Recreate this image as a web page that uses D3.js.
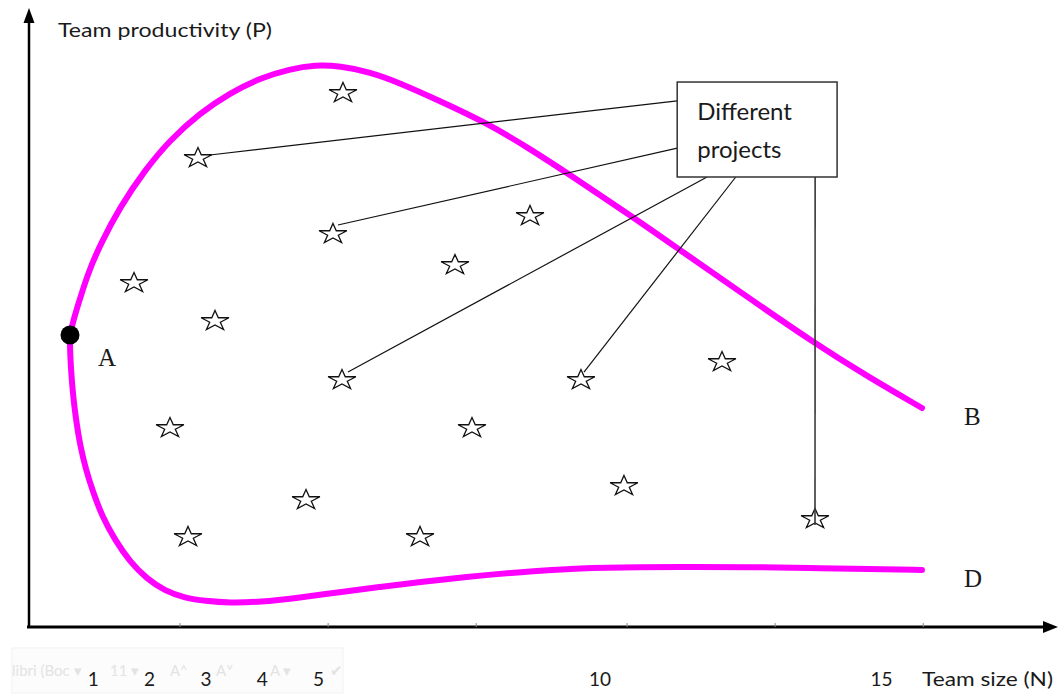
<!DOCTYPE html>
<html>
<head>
<meta charset="utf-8">
<script src="https://cdn.jsdelivr.net/npm/d3@7"></script>
<style>
  html, body { margin: 0; padding: 0; background: #ffffff; }
  svg { display: block; }
</style>
</head>
<body>
<svg id="chart" width="1058" height="695"></svg>
<script>
// ---------------- data ----------------
const xTickValues = [1, 2, 3, 4, 5, 10, 15];
const xTickLabels = ["1", "2", "3", "4", "5", "10", "15"];
const xTitle = "Team size (N)";
const yTitle = "Team productivity (P)";

// upper boundary A -> B  (N, P)
const upperN = [0.595, 0.648, 0.737, 0.915, 1.128, 1.483, 1.927, 2.371, 2.904, 3.437, 3.970, 4.503, 4.947, 5.391, 5.924, 6.456, 7.167, 8.002, 8.766, 9.423, 10.595, 11.430, 12.371, 13.810, 14.805, 15.728];
const upperP = [48.67, 50.83, 53.67, 59.0, 63.67, 70.0, 76.17, 81.17, 85.67, 89.0, 91.5, 93.0, 93.67, 93.5, 92.5, 90.67, 87.67, 84.0, 79.67, 75.67, 68.33, 62.83, 56.67, 47.33, 41.5, 36.5];

// lower boundary A -> D  (N, P)
const lowerN = [0.595, 0.595, 0.613, 0.648, 0.702, 0.773, 0.879, 1.004, 1.163, 1.394, 1.661, 1.963, 2.282, 2.638, 2.993, 3.437, 3.970, 4.627, 5.391, 6.101, 6.812, 7.611, 8.588, 9.654, 10.720, 11.679, 12.673, 13.721, 14.805, 15.728];
const lowerP = [48.67, 46.17, 42.83, 38.67, 34.5, 30.33, 26.17, 22.5, 18.5, 14.5, 10.83, 8.0, 6.0, 4.83, 4.33, 4.0, 4.17, 4.83, 5.83, 6.67, 7.5, 8.33, 9.17, 9.83, 10.0, 10.0, 10.0, 9.83, 9.67, 9.5];

// projects (stars)
const projectN = [5.444, 2.868, 5.266, 8.766, 7.433, 1.732, 3.171, 5.426, 9.671, 12.176, 2.371, 7.735, 4.787, 10.435, 2.691, 6.812, 13.828];
const projectP = [89.17, 78.33, 65.67, 68.67, 60.5, 57.5, 51.17, 41.33, 41.33, 44.33, 33.33, 33.33, 21.33, 23.67, 15.17, 15.17, 18.17];

// point A
const pointA = { n: 0.595, p: 48.67, label: "A" };
const endLabels = ["B", "D"];

// annotation box (data coords) and its leaders
const boxText = ["Different", "projects"];
const boxN = [11.38, 14.22];
const boxP = [90.83, 75.0];
const leaderFromN = [11.38, 11.38, 11.91, 12.42, 13.83];
const leaderFromP = [87.7, 79.8, 75.0, 75.0, 75.0];
const leaderStar  = [1, 2, 7, 8, 16];

// faint minor tick marks on the x axis (N)
const minorTicks = [2.55, 5.18, 7.81, 10.49, 13.12, 15.75];

// faint word-processor toolbar remnant under the axis
const toolbarTexts = ["libri (Boc \u25BE", "11 \u25BE", "A\u02C4", "A\u02C5", "A \u25BE", "\u2714"];
const toolbarX     = [12, 110, 170, 216, 270, 330];

// ---------------- drawing ----------------
const svg = d3.select("#chart");
const x = d3.scaleLinear().domain([0, 16]).range([36.5, 36.5 + 56.3 * 16]);
const y = d3.scaleLinear().domain([0, 100]).range([627, 27]);

const axisY0 = 627;   // x-axis baseline
const axisX0 = 29;    // y-axis position

// faint toolbar artifact
svg.append("rect").attr("x", 12).attr("y", 648).attr("width", 331).attr("height", 45)
  .attr("fill", "#fcfcfc").attr("stroke", "#f2f2f2");
svg.selectAll("text.tb").data(toolbarTexts).join("text").attr("class", "tb")
  .attr("x", (d, i) => toolbarX[i]).attr("y", 676)
  .attr("font-family", "Lato, sans-serif").attr("font-size", 15).attr("fill", "#e3e3e3").text(d => d);

// axes lines with arrowheads
svg.append("line").attr("x1", 27).attr("x2", 1046).attr("y1", axisY0).attr("y2", axisY0)
  .attr("stroke", "#000").attr("stroke-width", 3);
svg.append("path").attr("d", `M1058,${axisY0} L1043,${axisY0 - 6} L1043,${axisY0 + 6} Z`).attr("fill", "#000");
svg.append("line").attr("x1", axisX0).attr("x2", axisX0).attr("y1", axisY0 + 1).attr("y2", 20)
  .attr("stroke", "#000").attr("stroke-width", 2.5);
svg.append("path").attr("d", `M${axisX0},8 L${axisX0 - 5.5},23 L${axisX0 + 5.5},23 Z`).attr("fill", "#000");

// faint minor ticks
svg.selectAll("line.minor").data(minorTicks).join("line").attr("class", "minor")
  .attr("x1", d => x(d)).attr("x2", d => x(d)).attr("y1", axisY0 - 4).attr("y2", axisY0)
  .attr("stroke", "#888").attr("stroke-width", 1);

// x tick labels via d3 axis
const xAxis = d3.axisBottom(x).tickValues(xTickValues)
  .tickFormat((d, i) => xTickLabels[i]).tickSize(0).tickPadding(0);
const gx = svg.append("g").attr("transform", `translate(0,${axisY0})`).call(xAxis);
gx.select(".domain").remove();
gx.selectAll("text").attr("font-family", "Lato, sans-serif").attr("font-size", 19)
  .attr("fill", "#1a1a1a").attr("dy", null).attr("y", 59);

// axis titles
svg.append("text").attr("x", 922).attr("y", 686).attr("font-family", "Lato, sans-serif")
  .attr("font-size", 19).attr("fill", "#1a1a1a")
  .attr("textLength", 131).attr("lengthAdjust", "spacingAndGlyphs").text(xTitle);
svg.append("text").attr("x", 58).attr("y", 37).attr("font-family", "Lato, sans-serif")
  .attr("font-size", 19).attr("fill", "#1a1a1a")
  .attr("textLength", 214).attr("lengthAdjust", "spacingAndGlyphs").text(yTitle);

// boundary curves
const line = d3.line().x(d => x(d[0])).y(d => y(d[1])).curve(d3.curveBasis);
const upper = upperN.map((n, i) => [n, upperP[i]]);
const lower = lowerN.map((n, i) => [n, lowerP[i]]);
svg.selectAll("path.curve").data([upper, lower]).join("path").attr("class", "curve")
  .attr("d", line).attr("fill", "none").attr("stroke", "#ff00ff")
  .attr("stroke-width", 6).attr("stroke-linecap", "round").attr("stroke-linejoin", "round");

// end labels B and D
const ends = [upper[upper.length - 1], lower[lower.length - 1]];
svg.selectAll("text.endlab").data(ends).join("text").attr("class", "endlab")
  .attr("x", d => x(d[0]) + 42).attr("y", d => y(d[1]) + 17)
  .attr("font-family", "'Liberation Serif', 'Times New Roman', serif").attr("font-size", 25)
  .attr("fill", "#1a1a1a").text((d, i) => endLabels[i]);

// point A
svg.append("circle").attr("cx", x(pointA.n)).attr("cy", y(pointA.p)).attr("r", 9.5).attr("fill", "#000");
svg.append("text").attr("x", x(pointA.n) + 28).attr("y", y(pointA.p) + 31)
  .attr("font-family", "'Liberation Serif', 'Times New Roman', serif").attr("font-size", 25)
  .attr("fill", "#1a1a1a").text(pointA.label);

// stars
const projects = projectN.map((n, i) => ({ n, p: projectP[i] }));
const star = d3.symbol().type(d3.symbolStar).size(240);
svg.selectAll("path.star").data(projects).join("path").attr("class", "star")
  .attr("d", star())
  .attr("transform", d => `translate(${x(d.n)},${y(d.p) + 1}) scale(1,0.72)`)
  .attr("fill", "#fff").attr("stroke", "#111").attr("stroke-width", 1.3)
  .attr("vector-effect", "non-scaling-stroke").attr("stroke-linejoin", "miter");

// leaders
const leaderOffsets = [[12, -2], [5, -8], [6, -7], [3, -7], [0, 7]];
const leaders = leaderStar.map((s, i) => ({
  x1: x(leaderFromN[i]), y1: y(leaderFromP[i]),
  x2: x(projects[s].n) + leaderOffsets[i][0], y2: y(projects[s].p) + leaderOffsets[i][1],
  vertical: i === 4
}));
svg.selectAll("line.leader").data(leaders).join("line").attr("class", "leader")
  .attr("x1", d => d.x1).attr("y1", d => d.y1).attr("x2", d => d.x2).attr("y2", d => d.y2)
  .attr("stroke", d => d.vertical ? "#3a3a3a" : "#111").attr("stroke-width", d => d.vertical ? 1.6 : 1.2);

// annotation box
const bx = x(boxN[0]), by = y(boxP[0]), bw = x(boxN[1]) - x(boxN[0]), bh = y(boxP[1]) - y(boxP[0]);
svg.append("rect").attr("x", bx).attr("y", by).attr("width", bw).attr("height", bh)
  .attr("fill", "#fff").attr("stroke", "#333").attr("stroke-width", 1.5);
svg.selectAll("text.boxt").data(boxText).join("text").attr("class", "boxt")
  .attr("x", bx + 20).attr("y", (d, i) => by + 38 + i * 38)
  .attr("font-family", "Lato, sans-serif").attr("font-size", 24).attr("fill", "#1a1a1a").text(d => d);
</script>
</body>
</html>
